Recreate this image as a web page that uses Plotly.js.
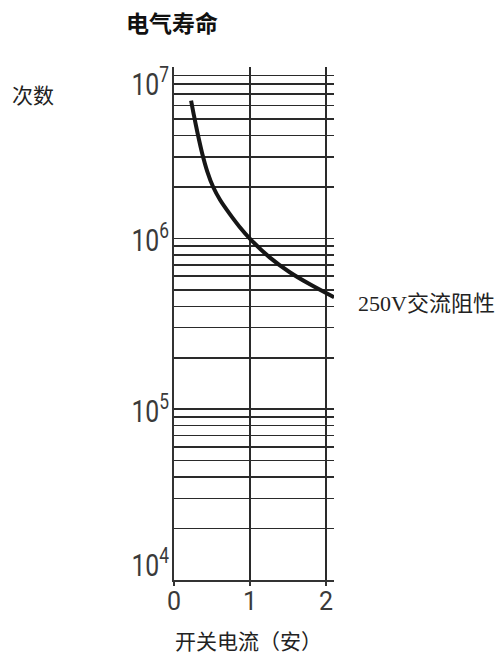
<!DOCTYPE html>
<html>
<head>
<meta charset="utf-8">
<script src="https://cdn.plot.ly/plotly-3.0.1.min.js"></script>
<style>html,body{margin:0;padding:0;background:#fff;}#chart{width:501px;height:655px;}</style>
</head>
<body>
<div id="chart"></div>
<script>
// ---- data ----
var currentA = [0.225, 0.265, 0.311, 0.371, 0.437, 0.517, 0.609, 0.728, 0.861, 1.007, 1.258, 1.523, 1.788, 2.106];
var cycles   = [6.41e6, 5.17e6, 4.11e6, 3.14e6, 2.47e6, 1.99e6, 1.67e6, 1.40e6, 1.17e6, 9.87e5, 7.74e5, 6.33e5, 5.38e5, 4.52e5];
var seriesName = '250V交流阻性';
var xTickVals = [0, 1, 2];
var xTickText = ['0', '1', '2'];
var yDecadeExps = [4, 5, 6, 7];
var yDecadeText = ['10<sup>4</sup>', '10<sup>5</sup>', '10<sup>6</sup>', '10<sup>7</sup>'];
var chartTitle = '电气寿命';
var yTitle = '次数';
var xTitle = '开关电流（安）';

// gridline values for the log axis: 1..9 x 10^n
var yGridVals = [];
for (var e = 4; e <= 6; e++) { for (var m = 1; m <= 9; m++) { yGridVals.push(m * Math.pow(10, e)); } }
yGridVals.push(1e7);

var W = 501, H = 655;
var M = {l: 174, r: 167, t: 67, b: 75};
function px2paperX(px) { return (px - M.l) / (W - M.l - M.r); }
function px2paperY(py) { return (H - M.b - py) / (H - M.t - M.b); }

var cjk = 'Noto Sans CJK SC, sans-serif';
var narrow = 'Roboto, Liberation Sans, sans-serif';

var annotations = [];
// y decade labels
yDecadeExps.forEach(function (ex, i) {
  var anchor = 'middle', ys = 0;
  if (ex === 7) { anchor = 'top'; ys = 8; }
  if (ex === 4) { anchor = 'bottom'; ys = -6; }
  annotations.push({
    xref: 'paper', yref: 'y', x: 0, y: ex, xanchor: 'right', yanchor: anchor,
    xshift: -3, yshift: ys, showarrow: false, text: yDecadeText[i],
    font: {family: narrow, size: 31, color: '#3a3a3a'}
  });
});
// y title (horizontal, top-left)
annotations.push({
  xref: 'paper', yref: 'paper', x: px2paperX(33), y: px2paperY(94),
  xanchor: 'center', yanchor: 'middle', showarrow: false, text: yTitle,
  font: {family: cjk, size: 21, color: '#222'}
});
// x title
annotations.push({
  xref: 'paper', yref: 'paper', x: px2paperX(248), y: px2paperY(640),
  xanchor: 'center', yanchor: 'middle', showarrow: false, text: xTitle,
  font: {family: cjk, size: 21, color: '#222'}
});
// series label
annotations.push({
  xref: 'paper', yref: 'paper', x: px2paperX(356), y: px2paperY(303),
  xanchor: 'left', yanchor: 'middle', showarrow: false, text: seriesName,
  font: {family: 'Liberation Serif, Noto Sans CJK SC, serif', size: 22, color: '#222'}
});

var trace = {
  x: currentA, y: cycles, type: 'scatter', mode: 'lines', name: seriesName,
  line: {color: '#161616', width: 4, shape: 'spline', smoothing: 0.8},
  hoverinfo: 'x+y'
};

var layout = {
  width: W, height: H,
  margin: M,
  paper_bgcolor: '#fff', plot_bgcolor: '#fff',
  showlegend: false,
  title: {
    text: '<b>' + chartTitle + '</b>', x: 172 / W, xanchor: 'center', xref: 'container',
    y: 1 - 24 / H, yanchor: 'middle', yref: 'container',
    font: {family: cjk, size: 23, color: '#111'}
  },
  xaxis: {
    range: [0, 2.105], tickvals: xTickVals, ticktext: xTickText,
    showgrid: true, gridcolor: '#2a2a2a', gridwidth: 1.5,
    showline: true, linecolor: '#333', linewidth: 2,
    ticks: 'outside', ticklen: 4, tickcolor: '#333', tickwidth: 1.5,
    ticklabelstandoff: -6,
    tickfont: {family: narrow, size: 25, color: '#3a3a3a'},
    zeroline: false, fixedrange: true
  },
  yaxis: {
    type: 'log', range: [4, 7.003], tickvals: yGridVals, showticklabels: false,
    showgrid: true, gridcolor: '#2a2a2a', gridwidth: 1.5,
    showline: true, linecolor: '#333', linewidth: 2,
    ticks: '', zeroline: false, fixedrange: true
  },
  annotations: annotations
};

Plotly.newPlot('chart', [trace], layout, {displayModeBar: false, staticPlot: true}).then(function (gd) {
  // condense the decade labels horizontally (the reference uses a narrow face)
  gd.querySelectorAll('.annotation-text').forEach(function (t) {
    if (/^10/.test(t.textContent)) {
      t.style.transformBox = 'fill-box';
      t.style.transformOrigin = 'right center';
      t.style.transform = 'scaleX(0.8)';
    }
  });
});
</script>
</body>
</html>
